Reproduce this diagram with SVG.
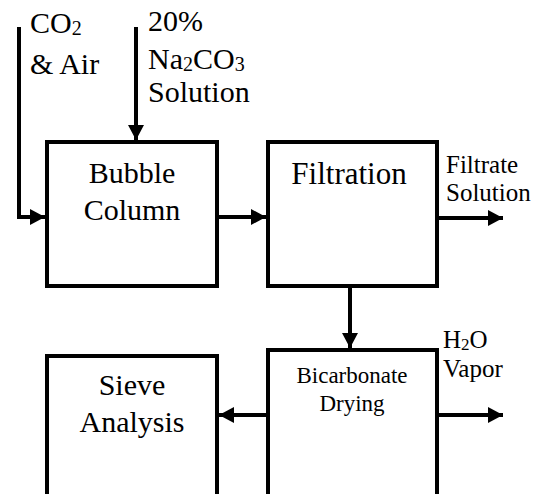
<svg xmlns="http://www.w3.org/2000/svg" width="548" height="494" viewBox="0 0 548 494">
<style>
.box{fill:#fff;stroke:#000;stroke-width:4}
.ln{fill:none;stroke:#000;stroke-width:4}
</style>
<defs>
<marker id="ah" markerUnits="userSpaceOnUse" markerWidth="16" markerHeight="16" viewBox="0 0 16 16" refX="15" refY="8" orient="auto">
<path d="M0,0 L15,8 L0,16 Z" fill="#000"/>
</marker>
</defs>
<rect width="548" height="494" fill="#fff"/>
<g id="connectors">
<path class="ln" d="M19,27 V217 H45" marker-end="url(#ah)"/>
<path class="ln" d="M136,27 V140" marker-end="url(#ah)"/>
<path class="ln" d="M217,217 H266" marker-end="url(#ah)"/>
<path class="ln" d="M437,218 H503" marker-end="url(#ah)"/>
<path class="ln" d="M350,286 V348" marker-end="url(#ah)"/>
<path class="ln" d="M268,415 H219" marker-end="url(#ah)"/>
<path class="ln" d="M437,415 H503" marker-end="url(#ah)"/>
</g>
<g id="bubble">
<rect class="box" x="47" y="142" width="170" height="144"/>
<text x="132" y="183" style="font-family:'Liberation Serif',serif;font-size:30px;text-anchor:middle">Bubble</text>
<text x="132" y="220" style="font-family:'Liberation Serif',serif;font-size:30px;text-anchor:middle">Column</text>
</g>
<g id="filtration">
<rect class="box" x="268" y="142" width="169" height="144"/>
<text x="349" y="184" style="font-family:'Liberation Serif',serif;font-size:31px;text-anchor:middle">Filtration</text>
</g>
<g id="drying">
<rect class="box" x="268" y="350" width="169" height="160"/>
<text x="352" y="383" style="font-family:'Liberation Serif',serif;font-size:23px;text-anchor:middle">Bicarbonate</text>
<text x="352" y="411" style="font-family:'Liberation Serif',serif;font-size:23px;text-anchor:middle">Drying</text>
</g>
<g id="sieve">
<rect class="box" x="47" y="356" width="170" height="160"/>
<text x="132" y="395" style="font-family:'Liberation Serif',serif;font-size:30px;text-anchor:middle">Sieve</text>
<text x="132" y="432" style="font-family:'Liberation Serif',serif;font-size:30px;text-anchor:middle">Analysis</text>
</g>
<g id="labels">
<text x="30" y="33" style="font-family:'Liberation Serif',serif;font-size:30px">CO<tspan style="font-size:20px" dy="2">2</tspan></text>
<text x="30" y="74" style="font-family:'Liberation Serif',serif;font-size:30px">&amp; Air</text>
<text x="148" y="31" style="font-family:'Liberation Serif',serif;font-size:30px">20%</text>
<text x="148" y="69" style="font-family:'Liberation Serif',serif;font-size:30px">Na<tspan style="font-size:20px" dy="2">2</tspan><tspan dy="-2">CO</tspan><tspan style="font-size:20px" dy="2">3</tspan></text>
<text x="148" y="102" style="font-family:'Liberation Serif',serif;font-size:30px">Solution</text>
<text x="446" y="173" style="font-family:'Liberation Serif',serif;font-size:25px">Filtrate</text>
<text x="446" y="201" style="font-family:'Liberation Serif',serif;font-size:25px">Solution</text>
<text x="443" y="348" style="font-family:'Liberation Serif',serif;font-size:25px">H<tspan style="font-size:17px" dy="2">2</tspan><tspan dy="-2">O</tspan></text>
<text x="443" y="377" style="font-family:'Liberation Serif',serif;font-size:25px">Vapor</text>
</g>
</svg>
